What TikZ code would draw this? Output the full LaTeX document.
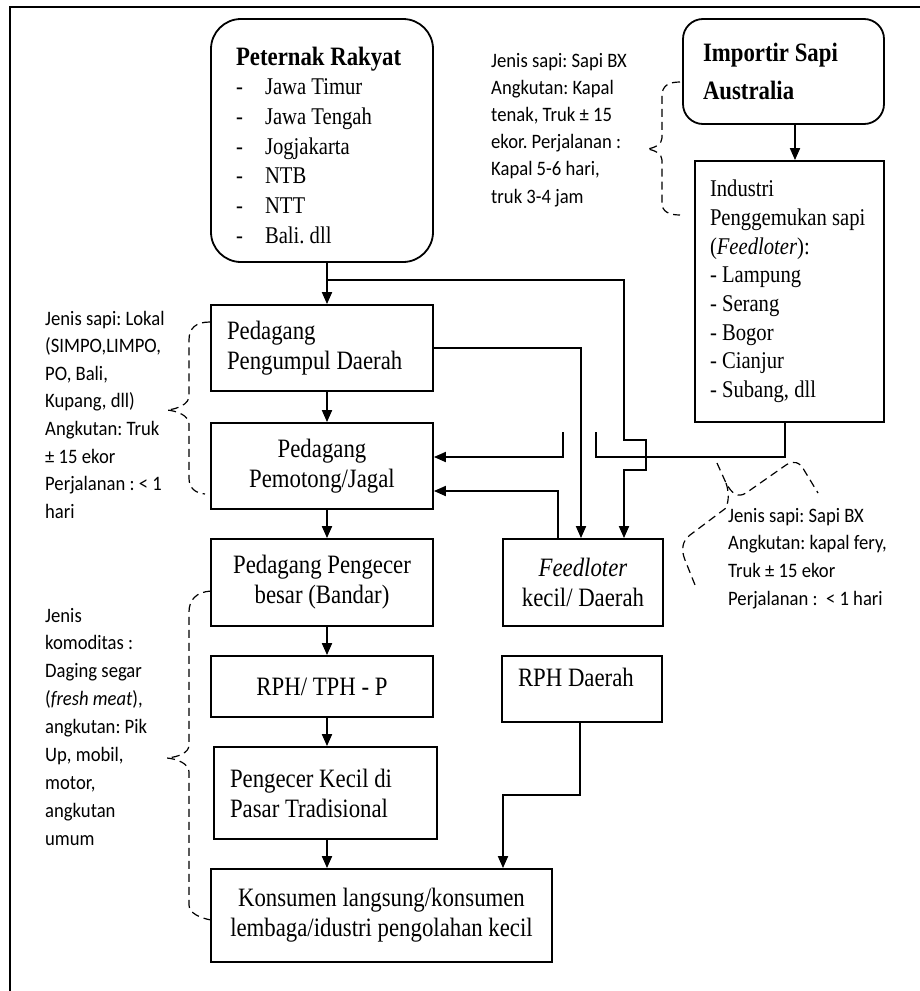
\documentclass[tikz,border=0pt]{standalone}
\usepackage{fontspec}
\setmainfont{Liberation Serif}[FakeStretch=0.86]
\newfontfamily\annotfont{Carlito}[FakeStretch=0.91]
\usetikzlibrary{arrows.meta}
\frenchspacing
\newcommand\boxfont{\fontsize{26.5}{30}\selectfont}
\newcommand\listfont{\fontsize{24}{29.6}\selectfont}
\newcommand\indfont{\fontsize{24}{28.7}\selectfont}
\newcommand\notesize[1]{\annotfont\fontsize{20.5}{#1}\selectfont}
\begin{document}
\begin{tikzpicture}[x=1pt,y=-1pt,
  box/.style={draw, line width=1.8pt, inner ysep=0pt, font=\boxfont},
  conn/.style={line width=1.8pt},
  flow/.style={line width=1.8pt, -{Triangle[length=12pt,width=10pt]}},
  brace/.style={dash pattern=on 8pt off 5pt, line width=1.2pt},
  note/.style={anchor=base west, inner sep=0pt}]
\useasboundingbox (0,0) rectangle (920,991);
% frame
\draw[line width=2.4pt] (10,991) -- (10,7) -- (920,7);

% boxes
\node[box, rounded corners=30pt, minimum width=222pt, minimum height=243pt,
  text width=172pt, inner xsep=25pt, align=flush left, text height=28pt] (pet) at (322,140.5)
  {\textbf{Peternak Rakyat}\\\listfont
   \makebox[29pt][l]{-}Jawa Timur\\
   \makebox[29pt][l]{-}Jawa Tengah\\
   \makebox[29pt][l]{-}Jogjakarta\\
   \makebox[29pt][l]{-}NTB\\
   \makebox[29pt][l]{-}NTT\\
   \makebox[29pt][l]{-}Bali. dll};

\node[box, rounded corners=20pt, minimum width=201pt, minimum height=105pt,
  text width=161pt, inner xsep=20pt, align=flush left,
  font=\fontsize{26.5}{37.5}\selectfont] (imp) at (783.5,71.5)
  {\textbf{Importir Sapi}\\\textbf{Australia}};

\node[box, minimum width=189pt, minimum height=261pt, text width=159pt,
  inner xsep=15pt, align=flush left, font=\indfont] (ind) at (789.5,291.5)
  {Industri\\Penggemukan~sapi\\(\textit{Feedloter}):\\- Lampung\\- Serang\\- Bogor\\- Cianjur\\- Subang, dll};

\node[box, minimum width=222pt, minimum height=86pt, text width=190pt,
  inner xsep=16pt, align=flush left] (pgd) at (322,348)
  {Pedagang\\Pengumpul Daerah};

\node[box, minimum width=222pt, minimum height=86pt, align=center] (pjg) at (322,466)
  {Pedagang\\Pemotong/Jagal};

\node[box, minimum width=222pt, minimum height=87pt, align=center] (pbd) at (322,582.5)
  {Pedagang Pengecer\\besar (Bandar)};

\node[box, minimum width=222pt, minimum height=61pt, align=center] (rph) at (322,686.5)
  {RPH/ TPH - P};

\node[box, minimum width=223pt, minimum height=92pt, text width=191pt,
  inner xsep=16pt, align=flush left] (pkc) at (325.5,793)
  {Pengecer Kecil di\\Pasar Tradisional};

\node[box, minimum width=341pt, minimum height=93pt, align=center] (kon) at (381.5,915.5)
  {Konsumen langsung/konsumen\\lembaga/idustri pengolahan kecil};

\node[box, minimum width=160pt, minimum height=87pt, align=center] (fdl) at (583,582.5)
  {\textit{Feedloter}\\kecil/ Daerah};

\node[box, minimum width=160pt, minimum height=66pt, text width=128pt,
  inner xsep=16pt, align=flush left, text height=15pt, text depth=21pt] (rphd) at (582,689)
  {RPH Daerah};

% reference coordinates
\coordinate (xa) at (327,0);
\coordinate (xb) at (624,0);
\coordinate (xc) at (581,0);
\coordinate (xd) at (558,0);
\coordinate (xe) at (795,0);
\coordinate (xf) at (785,0);
\coordinate (xg) at (580,0);
\coordinate (xh) at (503,0);
\coordinate (ya) at (0,457);
\coordinate (yb) at (0,491);
\coordinate (br) at (327,280);

% main chain
\draw[flow] (pet.south -| xa) -- (pgd.north -| xa);
\draw[flow] (pgd.south -| xa) -- (pjg.north -| xa);
\draw[flow] (pjg.south -| xa) -- (pbd.north -| xa);
\draw[flow] (pbd.south -| xa) -- (rph.north -| xa);
\draw[flow] (rph.south -| xa) -- (pkc.north -| xa);
\draw[flow] (pkc.south -| xa) -- (kon.north -| xa);

% peternak -> feedloter kecil (with hop)
\draw[flow] (br) -- (624,280) -- (624,440) -- (646,440) -- (646,470) -- (624,470) -- (fdl.north -| xb);
% pengumpul -> feedloter kecil
\draw[flow] (pgd.east) -- (pgd.east -| xc) -- (fdl.north -| xc);
% industri -> pemotong (with gap)
\draw[conn] (ind.south -| xf) -- (xf |- ya) -- (596,457) -- (596,432);
\draw[flow] (563,432) -- (563,457) -- (pjg.east |- ya);
% feedloter kecil -> pemotong
\draw[flow] (fdl.north -| xd) -- (xd |- yb) -- (pjg.east |- yb);
% RPH daerah -> konsumen
\draw[flow] (rphd.south -| xg) -- (580,795) -- (503,795) -- (kon.north -| xh);
% importir -> industri
\draw[flow] (imp.south -| xe) -- (ind.north -| xe);

% dashed braces
\draw[brace] (680,82) .. controls (668,82) and (662,86) .. (662,96) -- (662,138)
  .. controls (662,144) and (655,148) .. (647,149)
  .. controls (655,150) and (662,154) .. (662,160) -- (662,203)
  .. controls (662,211) and (668,215) .. (680,215);
\draw[brace] (210,322) .. controls (196,322) and (189,328) .. (189,340) -- (189,396)
  .. controls (189,404) and (178,409) .. (167,410)
  .. controls (178,411) and (189,416) .. (189,424) -- (189,478)
  .. controls (189,488) and (195,493) .. (205,494);
\draw[brace] (211,591) .. controls (196,592) and (189,600) .. (189,612) -- (189,745)
  .. controls (189,753) and (178,757) .. (167,758)
  .. controls (178,759) and (189,764) .. (189,772) -- (189,905)
  .. controls (189,913) and (200,918) .. (211,920);
\draw[brace] (717,463) -- (726,483)
  .. controls (732,494) and (738,498) .. (746,493) -- (786,465)
  .. controls (793,460) and (800,462) .. (804,470) -- (818,493);
\draw[brace] (726,483) .. controls (729,492) and (729,500) .. (726,508) -- (690,535)
  .. controls (682,541) and (681,550) .. (685,560) -- (695,585);

% annotations
\node[note] (na) at (491,67) {\notesize{27.2}\begin{tabular}[t]{@{}l@{}}
  Jenis sapi: Sapi BX\\Angkutan: Kapal\\tenak, Truk ± 15\\ekor. Perjalanan :\\Kapal 5-6 hari,\\truk 3-4 jam\end{tabular}};
\node[note] (nb) at (45,325) {\notesize{27.6}\begin{tabular}[t]{@{}l@{}}
  Jenis sapi: Lokal\\(SIMPO,LIMPO,\\PO, Bali,\\Kupang, dll)\\Angkutan: Truk\\± 15 ekor\\Perjalanan : < 1\\hari\end{tabular}};
\node[note] (nc) at (45,622) {\notesize{27.9}\begin{tabular}[t]{@{}l@{}}
  Jenis\\komoditas :\\Daging segar\\(\textit{fresh meat}),\\angkutan: Pik\\Up, mobil,\\motor,\\angkutan\\umum\end{tabular}};
\node[note] (nd) at (728,522) {\notesize{27.7}\begin{tabular}[t]{@{}l@{}}
  Jenis sapi: Sapi BX\\Angkutan: kapal fery,\\Truk ± 15 ekor\\Perjalanan :~~< 1 hari\end{tabular}};
\end{tikzpicture}
\end{document}
